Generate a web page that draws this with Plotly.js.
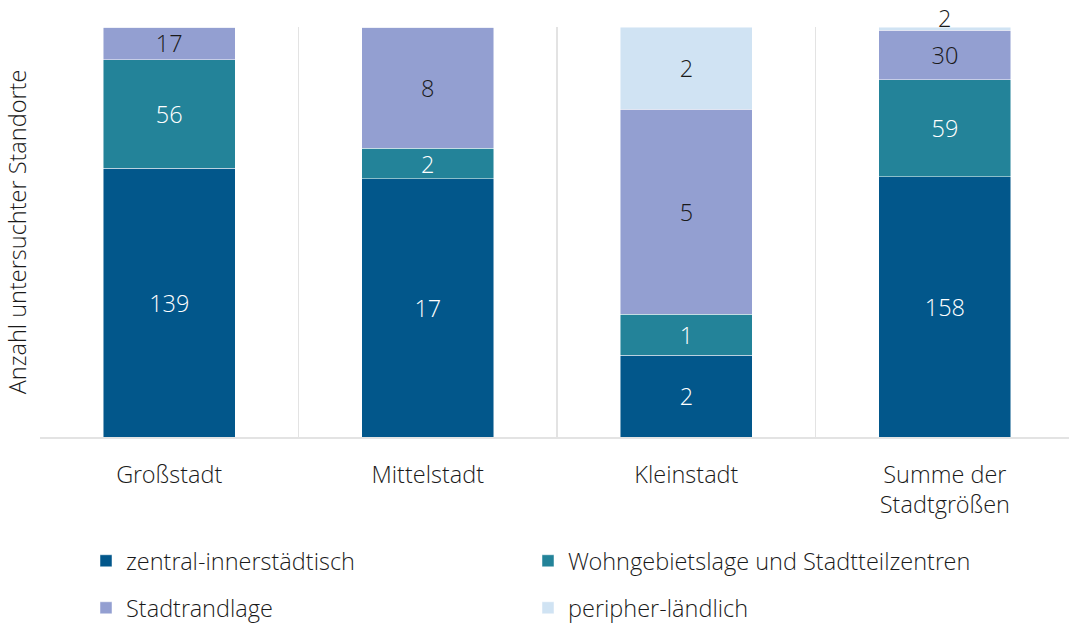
<!DOCTYPE html>
<html>
<head>
<meta charset="utf-8">
<script src="https://cdn.plot.ly/plotly-3.0.1.min.js"></script>
<style>
  html, body { margin: 0; padding: 0; background: #fff; overflow: hidden; }
  #chart { width: 1069px; height: 624px; }
</style>
</head>
<body>
<div id="chart"></div>
<script>
// Standorte nach Stadtgröße und Lagetyp (100 % gestapelt)
const categories = ['Großstadt', 'Mittelstadt', 'Kleinstadt', 'Summe der<br>Stadtgrößen'];
const zentral    = [139, 17, 2, 158];
const wohngebiet = [56, 2, 1, 59];
const stadtrand  = [17, 8, 5, 30];
const peripher   = [0, 0, 2, 2];

const seriesNames = [
  'zentral-innerstädtisch',
  'Wohngebietslage und Stadtteilzentren',
  'Stadtrandlage',
  'peripher-ländlich'
];
const seriesColors = ['#02578B', '#238399', '#939FD1', '#D0E3F3'];
const labelColors  = ['#ffffff', '#ffffff', '#1a1a1a', '#1a1a1a'];

const FONT = '"Open Sans Light", "Open Sans", "DejaVu Sans", sans-serif';
const FS = 23.5;

function font(size, color) { return { family: FONT, size: size, color: color, weight: 300 }; }

// segments too thin for an inside label get theirs placed above the column
const lastCol = categories.length - 1;
function labels(vals, isTop) {
  return vals.map((v, j) => (v > 0 && !(isTop && j === lastCol)) ? String(v) : '');
}

const allSeries = [zentral, wohngebiet, stadtrand, peripher];
const traces = allSeries.map((vals, i) => ({
  type: 'bar',
  name: seriesNames[i],
  x: categories,
  y: vals,
  text: labels(vals, i === allSeries.length - 1),
  textposition: 'inside',
  insidetextanchor: 'middle',
  textangle: 0,
  constraintext: 'none',
  textfont: font(FS, labelColors[i]),
  insidetextfont: font(FS, labelColors[i]),
  marker: { color: seriesColors[i], line: { color: 'rgba(255,255,255,0.6)', width: 0.8 } },
  width: 0.51,
  hoverinfo: 'skip',
  legend: i < 2 ? 'legend' : 'legend2'
}));

const legendBase = {
  orientation: 'h',
  xref: 'container', yref: 'container',
  xanchor: 'left', yanchor: 'middle',
  font: font(FS, '#1a1a1a'),
  entrywidth: 397,
  bgcolor: 'rgba(0,0,0,0)',
  borderwidth: 0,
  traceorder: 'normal'
};

const layout = {
  width: 1069,
  height: 624,
  margin: { l: 40, r: 0, t: 27, b: 187 },
  paper_bgcolor: '#ffffff',
  plot_bgcolor: '#ffffff',
  barmode: 'stack',
  barnorm: 'percent',
  showlegend: true,
  font: font(FS, '#1a1a1a'),
  xaxis: {
    type: 'category',
    range: [-0.5, 3.48],
    tickson: 'boundaries',
    ticks: '',
    showgrid: true,
    gridcolor: '#e3e3e3',
    gridwidth: 1.5,
    showline: true,
    linecolor: '#e3e3e3',
    linewidth: 1.5,
    zeroline: false,
    ticklabelstandoff: 16,
    tickfont: font(FS, '#1a1a1a'),
    fixedrange: true
  },
  yaxis: {
    range: [0, 100],
    showticklabels: false,
    showgrid: false,
    zeroline: false,
    showline: false,
    ticks: '',
    title: { text: 'Anzahl untersuchter Standorte', font: font(FS, '#1a1a1a'), standoff: 5 },
    fixedrange: true
  },
  annotations: [{
    x: categories[lastCol],
    y: 100,
    xref: 'x', yref: 'y',
    text: String(peripher[lastCol]),
    showarrow: false,
    yanchor: 'bottom',
    yshift: -9,
    font: font(FS, labelColors[3])
  }],
  legend: Object.assign({}, legendBase, { x: 86 / 1069, y: 1 - 561 / 624 }),
  legend2: Object.assign({}, legendBase, { x: 86 / 1069, y: 1 - 608 / 624 })
};

Plotly.newPlot('chart', traces, layout, { displayModeBar: false, staticPlot: true });
</script>
</body>
</html>
